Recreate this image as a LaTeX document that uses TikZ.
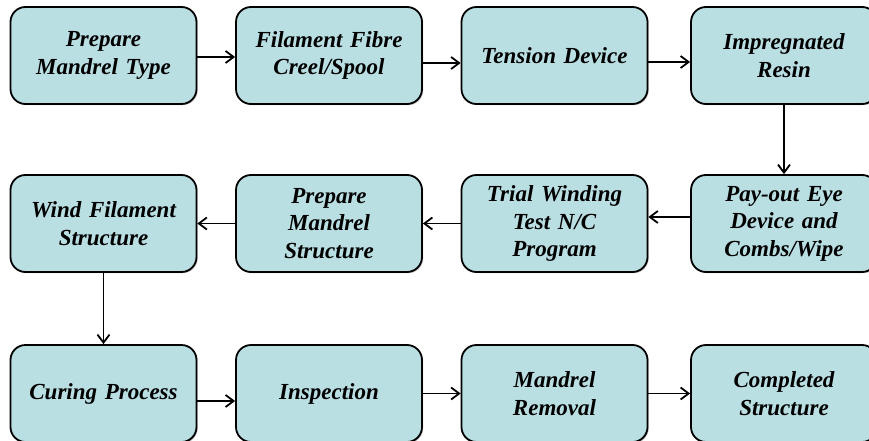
\documentclass[tikz,border=0pt]{standalone}
\usepackage{fontspec}
\setmainfont{Liberation Serif}
\usetikzlibrary{arrows.meta,shadows}
\definecolor{boxfill}{HTML}{B9DFE3}
\begin{document}
\begin{tikzpicture}[x=1pt,y=-1pt,
  procbox/.style={draw=black, line width=1.8pt, fill=boxfill, rounded corners=15pt,
    minimum width=186pt, minimum height=97pt, inner sep=2pt, text width=180pt, align=center,
    font=\fontsize{23}{27.5}\selectfont\bfseries\itshape,
    drop shadow={shadow xshift=1.2pt, shadow yshift=-1.2pt, opacity=0.25, fill=black}},
  arr/.style={line width=1.9pt, -{Straight Barb[length=8pt,width=12pt,line width=1.8pt]}}]
\useasboundingbox (0,0) rectangle (869,441);
\node[procbox] (b1) at (103.5,55.5) {Prepare\\Mandrel Type};
\node[procbox] (b2) at (329,55.5) {Filament Fibre\\Creel/Spool};
\node[procbox] (b3) at (554.5,55.5) {Tension Device};
\node[procbox] (b4) at (784,55.5) {Impregnated\\Resin};
\node[procbox] (b5) at (103.5,223.5) {Wind Filament\\Structure\\[27.5pt]};
\node[procbox] (b6) at (329,223.5) {Prepare\\Mandrel\\Structure};
\node[procbox] (b7) at (554.5,223.5) {Trial Winding\\Test N/C\\Program};
\node[procbox] (b8) at (784,223.5) {Pay-out Eye\\Device and\\Combs/Wipe};
\node[procbox] (b9) at (103.5,393.5) {Curing Process};
\node[procbox] (b10) at (329,393.5) {Inspection};
\node[procbox] (b11) at (554.5,393.5) {Mandrel\\Removal};
\node[procbox] (b12) at (784,393.5) {Completed\\Structure};
\draw[arr] ([yshift=-1.5pt]b1.east) -- ([yshift=-1.5pt]b2.west);
\draw[arr] ([yshift=-7.5pt]b2.east) -- ([yshift=-7.5pt]b3.west);
\draw[arr] ([yshift=-6.5pt]b3.east) -- ([yshift=-6.5pt]b4.west);
\draw[arr] (b4.south) -- (b8.north);
\draw[arr] ([yshift=6.5pt]b8.west) -- ([yshift=6.5pt]b7.east);
\draw[arr] (b7.west) -- (b6.east);
\draw[arr] (b6.west) -- (b5.east);
\draw[arr] (b5.south) -- (b9.north);
\draw[arr] ([yshift=-7.5pt]b9.east) -- ([yshift=-7.5pt]b10.west);
\draw[arr] (b10.east) -- (b11.west);
\draw[arr] (b11.east) -- (b12.west);
\end{tikzpicture}
\end{document}
